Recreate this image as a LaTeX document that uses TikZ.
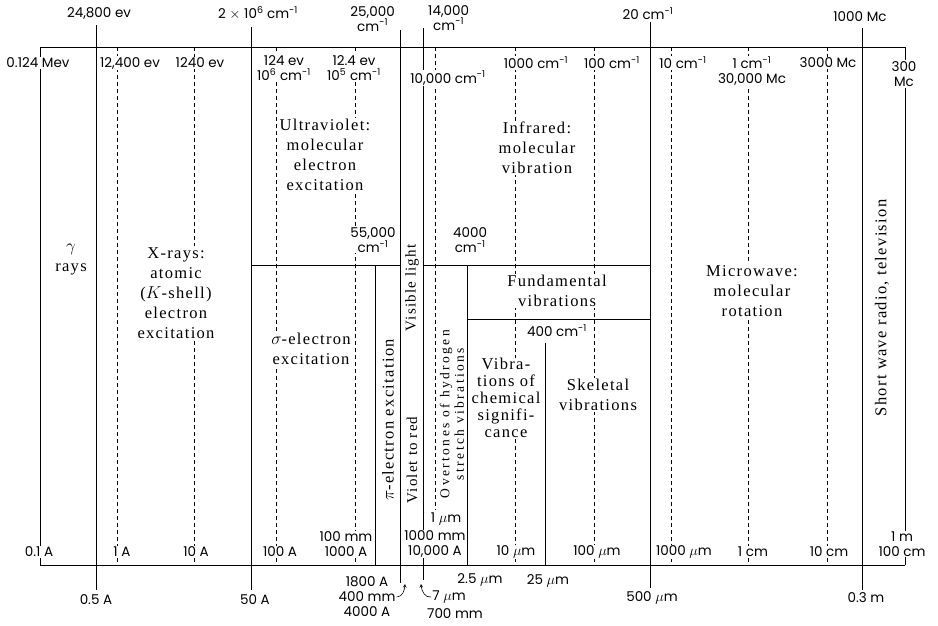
\documentclass[tikz,border=0pt]{standalone}
\usepackage{fontspec}
\usetikzlibrary{arrows}
\newfontfamily\labelfamily{Poppins}
\newfontfamily\regionfamily[LetterSpace=8]{Liberation Serif}
\newfontfamily\narrowfamily[LetterSpace=18]{Liberation Serif}
\newcommand{\lblfont}{\labelfamily\fontsize{13.5}{15}\selectfont}
\newcommand{\regfont}{\regionfamily\fontsize{16.5}{20}\selectfont}
\newcommand{\wavenum}{cm\textsuperscript{-1}}

\begin{document}
\begin{tikzpicture}[x=1pt,y=-1pt,
  lbl/.style={font=\lblfont, inner sep=1pt, fill=white, align=center},
  region/.style={font=\regfont, inner sep=1.5pt, fill=white, align=center},
  side/.style={font=\regfont, rotate=90, inner sep=0pt, align=center},
  major/.style={line width=0.9pt},
  minor/.style={line width=0.6pt, dash pattern=on 4pt off 3pt}]
  \useasboundingbox (0,0) rectangle (938,625);

  % dashed decade lines
  \foreach \x in {117,194,276,355,515,594,671,748,827} { \draw[minor] (\x,47) -- (\x,565); }
  \draw[minor] (435,47) -- (435,510);

  % regions
  \node[region] (gamma) at (71,260) {$\gamma$\\rays};
  \node[region] (xray) at (176,293) {X-rays:\\atomic\\($K$-shell)\\electron\\excitation};
  \node[region] (uv) at (325,155) {Ultraviolet:\\molecular\\electron\\excitation};
  \node[region] (sigma) at (311,349) {$\sigma$-electron\\excitation};
  \node[region] (ir) at (537,148) {Infrared:\\molecular\\vibration};
  \node[region] (fund) at (557,291) {Fundamental\\vibrations};
  \node[region, inner sep=0.5pt, font=\regionfamily\fontsize{16.5}{17}\selectfont] (chem) at (506,398) {Vibra-\\tions of\\chemical\\signifi-\\cance};
  \node[region] (skel) at (598,395) {Skeletal\\vibrations};
  \node[region] (micro) at (752,291) {Microwave:\\molecular\\rotation};
  \node[side] (pi) at (388,420) {$\pi$-electron excitation};
  \node[side, font=\regionfamily\fontsize{15}{18}\selectfont] (visible) at (412,288) {Visible light};
  \node[side, font=\regionfamily\fontsize{15}{18}\selectfont] (violet) at (412,460) {Violet to red};
  \node[side, font=\narrowfamily\fontsize{13.5}{14.5}\selectfont] (overtone) at (452,414) {Overtones of hydrogen\\stretch vibrations};
  \node[side] (radio) at (882,308) {Short wave radio, television};

  % solid boundaries
  \foreach \x/\ya/\yb in {96/25/590, 251/27/590, 400/30/583, 423/28/580, 650/22/588, 862/28/590} { \draw[major] (\x,\ya) -- (\x,\yb); }
  \foreach \x/\ya in {375/265, 467/265, 545/343} { \draw[major] (\x,\ya) -- (\x,565); }
  \draw[major] (251,265) -- (400,265) (423,265) -- (650,265) (467,319) -- (650,319);
  \draw[major] (40,565) -- (40,47) -- (905,47) -- (905,565);
  \draw[major] (40,565) -- (905,565);

  % labels above the chart
  \node[lbl] (t96) at (99,13) {24,800 ev};
  \node[lbl] (t251) at (258,13) {2 $\times$ 10\textsuperscript{6} \wavenum};
  \node[lbl, anchor=north east] (t400) at (396,5) {25,000\\\wavenum};
  \node[lbl, anchor=north west] (t423) at (427,4) {14,000\\\wavenum};
  \node[lbl] (t650) at (648,14) {20 \wavenum};
  \node[lbl] (t862) at (860,17) {1000 Mc};

  % labels inside the top edge
  \node[lbl] (u40) at (38,63) {0.124 Mev};
  \node[lbl] (u117) at (130,63) {12,400 ev};
  \node[lbl] (u194) at (200,63) {1240 ev};
  \node[lbl] (u276) at (284,68) {124 ev\\10\textsuperscript{6} \wavenum};
  \node[lbl] (u355) at (354,68) {12.4 ev\\10\textsuperscript{5} \wavenum};
  \node[lbl] (u435) at (448,78) {10,000 \wavenum};
  \node[lbl] (u515) at (536,63) {1000 \wavenum};
  \node[lbl] (u594) at (612,63) {100 \wavenum};
  \node[lbl] (u671) at (683,63) {10 \wavenum};
  \node[lbl] (u748) at (752,71) {1 \wavenum\\30,000 Mc};
  \node[lbl] (u827) at (828,63) {3000 Mc};
  \node[lbl] (u905) at (904,74) {300\\Mc};

  % labels on the middle boundary
  \node[lbl, inner sep=0pt] (m355) at (373,240) {55,000\\\wavenum};
  \node[lbl, anchor=west] (m467) at (452,240) {4000\\\wavenum};
  \node[lbl] (m545) at (557,331) {400 \wavenum};

  % labels inside the bottom edge
  \node[lbl] (d40) at (39,552) {0.1 A};
  \node[lbl] (d117) at (122,552) {1 A};
  \node[lbl] (d194) at (196,552) {10 A};
  \node[lbl] (d276) at (280,552) {100 A};
  \node[lbl] (d355) at (346,544) {100 mm\\1000 A};
  \node[lbl] (d435) at (446,519) {1 $\mu$m};
  \node[lbl] (d423) at (435,544) {1000 mm\\10,000 A};
  \node[lbl] (d515) at (516,552) {10 $\mu$m};
  \node[lbl] (d594) at (597,552) {100 $\mu$m};
  \node[lbl] (d671) at (684,552) {1000 $\mu$m};
  \node[lbl] (d748) at (753,552) {1 cm};
  \node[lbl] (d827) at (829,552) {10 cm};
  \node[lbl] (d905) at (902,544) {1 m\\100 cm};

  % labels below the chart
  \node[lbl] (b96) at (96,600) {0.5 A};
  \node[lbl] (b251) at (255,600) {50 A};
  \node[lbl] (b400) at (367,597) {1800 A\\400 mm\\4000 A};
  \node[lbl] (b423) at (449,597) {7 $\mu$m};
  \node[lbl] (b423b) at (455,614) {700 mm};
  \node[lbl] (b467) at (480,580) {2.5 $\mu$m};
  \node[lbl] (b545) at (548,581) {25 $\mu$m};
  \node[lbl] (b650) at (652,598) {500 $\mu$m};
  \node[lbl] (b862) at (866,598) {0.3 m};

  % pointers to the visible limits
  \coordinate (violetend) at (405,584);
  \coordinate (redend) at (421,584);
  \draw[-stealth, line width=0.6pt] (b400.east) to[out=0, in=-95] (violetend);
  \draw[-stealth, line width=0.6pt] (b423.west) to[out=190, in=-85] (redend);
\end{tikzpicture}
\end{document}
